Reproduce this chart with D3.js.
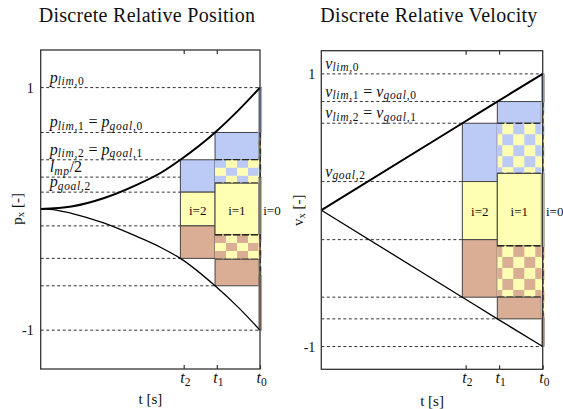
<!DOCTYPE html>
<html>
<head>
<meta charset="utf-8">
<script src="https://cdn.jsdelivr.net/npm/d3@7"></script>
<style>
body { margin: 0; background: #fff; }
svg text { font-family: "Liberation Serif", "DejaVu Serif", serif; fill: #111; }
</style>
</head>
<body>
<div id="chart"></div>
<script>
// time axis (normalised, t0 = 1)
var tTicks = [0.652, 0.803, 1.0];
var tTickNames = ["t_{2}", "t_{1}", "t_{0}"];
// columns i = 0, 1, 2
var colStart = [0.994, 0.795, 0.637];
var colEnd = [1.008, 0.994, 0.795];

// Discrete Relative Position
var posUpperT = [0, 0.14, 0.29, 0.44, 0.55, 0.637, 0.795, 0.90, 1.0];
var posUpperP = [0, 0.02, 0.09, 0.20, 0.30, 0.405, 0.63, 0.81, 1.0];
var posLowerT = [0, 0.07, 0.14, 0.29, 0.44, 0.55, 0.637, 0.795, 0.90, 1.0];
var posLowerP = [0, -0.01, -0.036, -0.118, -0.229, -0.32, -0.408, -0.634, -0.81, -1.0];
var posLevels = [1, 0.63, 0.405, 0.262, 0.138, -0.14, -0.408, -0.634, -1];
var posLevelEnd = [1, 0.795, 0.637, 0.637, 0.637, 0.637, 0.637, 0.795, 1];
var posLevelNames = ["p_{lim,0}", "p_{lim,1} = p_{goal,0}", "p_{lim,2} = p_{goal,1}",
                     "l_{mp}/2", "p_{goal,2}", "", "", "", ""];
// [column, kind, top, bottom]
var posBands = [
    [2, "blue", 0.405, 0.138], [2, "yellow", 0.138, -0.14], [2, "brown", -0.14, -0.408],
    [1, "blue", 0.63, 0.405], [1, "checkBlue", 0.405, 0.212], [1, "yellow", 0.212, -0.215],
    [1, "checkBrown", -0.215, -0.415], [1, "brown", -0.415, -0.634],
    [0, "blue", 1, 0.63], [0, "checkBlue", 0.63, 0.26], [0, "yellow", 0.26, -0.21],
    [0, "checkBrown", -0.21, -0.55], [0, "brown", -0.55, -1]
];

// Discrete Relative Velocity
var velUpperT = [0, 0.637, 0.795, 1.0];
var velUpperV = [0, 0.638, 0.797, 1.0];
var velLowerT = [0, 0.637, 0.795, 1.0];
var velLowerV = [0, -0.638, -0.797, -1.0];
var velLevels = [1, 0.797, 0.638, 0.21, -0.216, -0.638, -0.797, -1];
var velLevelEnd = [1, 0.795, 0.637, 0.637, 0.637, 0.637, 0.795, 1];
var velLevelNames = ["v_{lim,0}", "v_{lim,1} = v_{goal,0}", "v_{lim,2} = v_{goal,1}",
                     "v_{goal,2}", "", "", "", ""];
var velBands = [
    [2, "blue", 0.638, 0.21], [2, "yellow", 0.21, -0.216], [2, "brown", -0.216, -0.638],
    [1, "blue", 0.797, 0.638], [1, "checkBlue", 0.638, 0.27], [1, "yellow", 0.27, -0.262],
    [1, "checkBrown", -0.262, -0.638], [1, "brown", -0.638, -0.797],
    [0, "blue", 1, 0.79], [0, "checkBlue", 0.79, 0.27], [0, "yellow", 0.27, -0.27],
    [0, "checkBrown", -0.27, -0.79], [0, "brown", -0.79, -1]
];

var colors = { blue: "#bccaf6", yellow: "#ffffb4", brown: "#d9ae95" };

var svg = d3.select("#chart").append("svg")
    .attr("width", 563)
    .attr("height", 409);

// tiny tex-like writer: x_{sub}, letters italic, rest upright
function addTex(sel, str, size, upright) {
    var shift = 0;
    var parts = str.split(/(_\{[^}]*\})/);
    parts.forEach(function(p) {
        if (!p) return;
        var sub = p.indexOf("_{") === 0;
        var body = sub ? p.slice(2, -1) : p;
        var target = sub ? size * 0.16 : 0;
        var bits = body.match(/[a-zA-Z]+|[^a-zA-Z]+/g);
        bits.forEach(function(b) {
            var ts = sel.append("tspan")
                .attr("font-size", sub ? size * 0.72 : size)
                .attr("font-style", (!upright && /[a-zA-Z]/.test(b)) ? "italic" : "normal")
                .text(b);
            if (sub && !upright) ts.attr("letter-spacing", 0.7);
            if (target !== shift) {
                ts.attr("dy", target - shift);
                shift = target;
            }
        });
    });
}

function drawPanel(p) {
    var x = d3.scaleLinear().domain([0, 1]).range([p.left, p.right]);
    var y = d3.scaleLinear().domain(p.yDomain).range([p.bottom, p.top]);
    var g = svg.append("g");

    // title
    g.append("text")
        .attr("x", p.titleX)
        .attr("y", 22)
        .attr("text-anchor", "middle")
        .attr("font-size", 20)
        .attr("letter-spacing", 0.3)
        .text(p.title);

    // dashed levels
    g.selectAll(".lvl")
        .data(p.levels)
        .enter()
        .append("line")
        .attr("x1", x(0))
        .attr("x2", (d, i) => x(p.levelEnd[i]))
        .attr("y1", d => y(d))
        .attr("y2", d => y(d))
        .attr("stroke", "#333")
        .attr("stroke-width", 1)
        .attr("stroke-dasharray", "3,2.5");

    p.levelNames.forEach(function(name, i) {
        if (!name) return;
        var t = g.append("text")
            .attr("x", x(0) + p.labelDx)
            .attr("y", y(p.levels[i]) - 5)
            .attr("font-size", 16)
            .style("white-space", "pre");
        addTex(t, name, 16);
    });

    // bands of each column
    p.bands.forEach(function(b) {
        var col = b[0], kind = b[1];
        var bx0 = x(colStart[col]), bx1 = x(colEnd[col]);
        var by0 = y(b[2]), by1 = y(b[3]);
        if (kind.indexOf("check") === 0) {
            var other = kind === "checkBlue" ? colors.blue : colors.brown;
            g.append("rect")
                .attr("x", bx0).attr("y", by0)
                .attr("width", bx1 - bx0).attr("height", by1 - by0)
                .attr("fill", colors.yellow);
            var cw = p.cell[0], ch = p.cell[1];
            d3.range(0, Math.ceil((by1 - by0) / ch)).forEach(function(r) {
                d3.range(0, Math.ceil((bx1 - bx0) / cw) + 1).forEach(function(c) {
                    if ((r + c) % 2 !== 0) return;
                    var cx0 = Math.max(bx0, bx0 - p.cellOff + c * cw);
                    var cx1 = Math.min(bx1, bx0 - p.cellOff + (c + 1) * cw);
                    var cy0 = by0 + r * ch, cy1 = Math.min(by1, by0 + (r + 1) * ch);
                    if (cx1 <= cx0) return;
                    g.append("rect")
                        .attr("x", cx0).attr("y", cy0)
                        .attr("width", cx1 - cx0).attr("height", cy1 - cy0)
                        .attr("fill", other);
                });
            });
            if (col === 0) {
                g.append("line")
                    .attr("x1", (bx0 + bx1) / 2).attr("x2", (bx0 + bx1) / 2)
                    .attr("y1", by0).attr("y2", by1)
                    .attr("stroke", "#000").attr("stroke-width", 1.1)
                    .attr("stroke-dasharray", "5,3");
            } else {
                [by0, by1].forEach(function(yy) {
                    g.append("line")
                        .attr("x1", bx0).attr("x2", bx1)
                        .attr("y1", yy).attr("y2", yy)
                        .attr("stroke", "#000").attr("stroke-width", 1.2)
                        .attr("stroke-dasharray", "7,2");
                });
            }
        } else {
            g.append("rect")
                .attr("x", bx0).attr("y", by0)
                .attr("width", bx1 - bx0).attr("height", by1 - by0)
                .attr("fill", colors[kind])
                .attr("stroke", col === 0 ? "#888" : "#444")
                .attr("stroke-width", col === 0 ? 0.6 : 1);
        }
    });

    // column labels
    [2, 1].forEach(function(c) {
        g.append("text")
            .attr("x", (x(colStart[c]) + x(colEnd[c])) / 2)
            .attr("y", y(0) + 6)
            .attr("text-anchor", "middle")
            .attr("font-size", 13)
            .text("i=" + c);
    });
    g.append("text")
        .attr("x", x(colEnd[0]) + 1.5)
        .attr("y", y(0) + 6)
        .attr("font-size", 13)
        .text("i=0");

    // trajectories
    var line = d3.line().x(d => x(d[0])).y(d => y(d[1])).curve(d3.curveMonotoneX);
    g.append("path")
        .datum(d3.zip(p.upperT, p.upperV))
        .attr("d", line)
        .attr("fill", "none")
        .attr("stroke", "#000")
        .attr("stroke-width", 2);
    g.append("path")
        .datum(d3.zip(p.lowerT, p.lowerV))
        .attr("d", line)
        .attr("fill", "none")
        .attr("stroke", "#000")
        .attr("stroke-width", 1.3);

    // axes box and ticks
    g.append("rect")
        .attr("x", x(0)).attr("y", p.top)
        .attr("width", x(1) - x(0)).attr("height", p.bottom - p.top)
        .attr("fill", "none")
        .attr("stroke", "#333")
        .attr("stroke-width", 1.3);

    var bottomAxis = d3.axisBottom(x).tickValues(tTicks).tickSizeInner(-4).tickSizeOuter(0).tickFormat("");
    g.append("g")
        .attr("transform", `translate(0, ${p.bottom})`)
        .call(bottomAxis)
        .call(a => a.select(".domain").remove());
    var topAxis = d3.axisTop(x).tickValues(tTicks.slice(0, 2)).tickSizeInner(-4).tickSizeOuter(0).tickFormat("");
    g.append("g")
        .attr("transform", `translate(0, ${p.top})`)
        .call(topAxis)
        .call(a => a.select(".domain").remove());
    g.selectAll(".tick line").attr("stroke", "#333").attr("stroke-width", 1.2);

    tTicks.forEach(function(t, i) {
        var tl = g.append("text")
            .attr("x", x(t) + 2)
            .attr("y", p.bottom + 14)
            .attr("text-anchor", "middle")
            .attr("font-size", 16);
        addTex(tl, tTickNames[i], 16);
    });

    var leftAxis = d3.axisLeft(y).tickValues([-1, 1]).tickSize(0).tickPadding(p.yPad)
        .tickFormat(d => d < 0 ? "-1" : "1");
    g.append("g")
        .attr("transform", `translate(${x(0)}, 0)`)
        .call(leftAxis)
        .call(a => a.select(".domain").remove())
        .selectAll("text")
        .attr("font-family", "Liberation Serif")
        .attr("font-size", 14)
        .attr("fill", "#111");

    // axis titles
    g.append("text")
        .attr("x", (x(0) + x(1)) / 2)
        .attr("y", p.xLabelY)
        .attr("text-anchor", "middle")
        .attr("font-size", 15)
        .text("t [s]");
    var yl = g.append("text")
        .attr("transform", `translate(${p.yLabelX}, ${y(0)}) rotate(-90)`)
        .attr("text-anchor", "middle")
        .attr("font-size", 15)
        .style("white-space", "pre");
    addTex(yl, p.yName + "_{x}", 15, true);
    yl.append("tspan").attr("dy", -15 * 0.16).text(" [-]");
}

drawPanel({
    left: 40.7, right: 260, top: 50, bottom: 369,
    yDomain: [-1.32, 1.31],
    title: "Discrete Relative Position", titleX: 147,
    upperT: posUpperT, upperV: posUpperP,
    lowerT: posLowerT, lowerV: posLowerP,
    levels: posLevels, levelEnd: posLevelEnd, levelNames: posLevelNames,
    bands: posBands, cell: [11, 8], cellOff: 0,
    labelDx: 9, yPad: 7, xLabelY: 404, yLabelX: 22, yName: "p"
});

drawPanel({
    left: 321.3, right: 542.7, top: 50.7, bottom: 369.3,
    yDomain: [-1.167, 1.17],
    title: "Discrete Relative Velocity", titleX: 429,
    upperT: velUpperT, upperV: velUpperV,
    lowerT: velLowerT, lowerV: velLowerV,
    levels: velLevels, levelEnd: velLevelEnd, levelNames: velLevelNames,
    bands: velBands, cell: [11, 11], cellOff: 6,
    labelDx: 4, yPad: 6, xLabelY: 406, yLabelX: 303, yName: "v"
});
</script>
</body>
</html>
